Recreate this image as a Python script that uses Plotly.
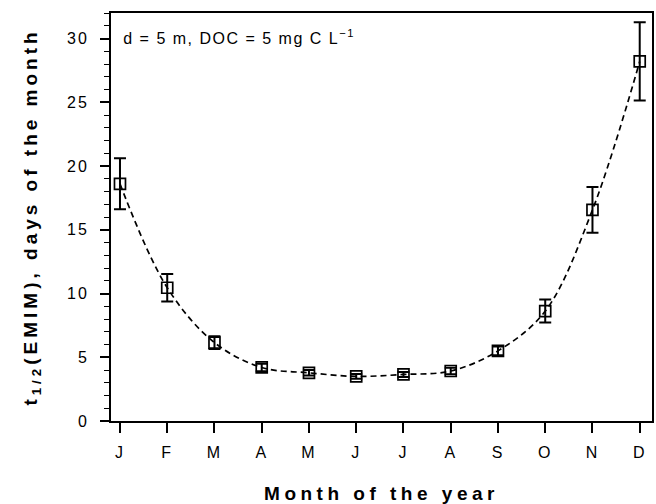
import plotly.graph_objects as go

months = list(range(1, 13))
month_labels = ["J", "F", "M", "A", "M", "J", "J", "A", "S", "O", "N", "D"]
half_life = [18.6, 10.45, 6.15, 4.2, 3.78, 3.5, 3.65, 3.92, 5.5, 8.62, 16.56, 28.2]
err = [2.0, 1.08, 0.5, 0.3, 0.22, 0.18, 0.2, 0.25, 0.35, 0.9, 1.8, 3.07]

FONT = "Liberation Sans, Arial, sans-serif"

fig = go.Figure()
fig.add_trace(go.Scatter(
    x=months, y=half_life,
    mode="lines+markers",
    line=dict(color="black", width=1.7, dash="6px,4px", shape="spline", smoothing=1.0),
    marker=dict(symbol="square-open", size=11, color="black", line=dict(width=1.7, color="black")),
    error_y=dict(type="data", array=err, visible=True, color="black", thickness=2, width=6),
    showlegend=False,
))

fig.add_annotation(
    x=0.236, y=1, xref="paper", yref="paper", xanchor="center", yanchor="top",
    yshift=-12,
    text="d = 5 m, DOC = 5 mg C L<sup>\u22121</sup>",
    showarrow=False, font=dict(family=FONT, size=16, color="black"),
)

fig.update_layout(
    width=656, height=504,
    margin=dict(l=111, r=2, t=13, b=83),
    paper_bgcolor="white", plot_bgcolor="white",
    font=dict(family=FONT, color="black", size=16),
    xaxis=dict(
        range=[0.81, 12.26], tickmode="array", tickvals=months, ticktext=month_labels,
        showgrid=False, zeroline=False,
        showline=True, linecolor="black", linewidth=2, mirror=True,
        ticks="outside", ticklen=10, tickwidth=1.6, tickcolor="black",
        ticklabelstandoff=6,
        tickfont=dict(family=FONT, size=16, color="black"),
        title=dict(text="Month of the year", font=dict(family=FONT, size=19, color="black", weight="bold"), standoff=27),
    ),
    yaxis=dict(
        range=[0, 32], tickvals=[0, 5, 10, 15, 20, 25, 30],
        showgrid=False, zeroline=False,
        showline=True, linecolor="black", linewidth=2, mirror=True,
        ticks="outside", ticklen=9, tickwidth=1.6, tickcolor="black",
        ticklabelstandoff=8,
        minor=dict(dtick=1, ticks="outside", ticklen=5, tickwidth=1.2, tickcolor="black", showgrid=False),
        tickfont=dict(family=FONT, size=16, color="black"),
        title=dict(text="t<sub>1/2</sub>(EMIM), days of the month", font=dict(family=FONT, size=19, color="black", weight="bold"), standoff=28),
    ),
)

post = """
var gd = document.getElementById('{plot_id}');
function sp(sel, v){ gd.querySelectorAll(sel).forEach(function(e){ e.style.letterSpacing = v; }); }
sp('.xtick text', '2px');
sp('.ytick text', '2px');
sp('.xtitle', '4.5px');
sp('.ytitle', '4px');
sp('.annotation-text', '1.5px');
"""

fig.write_html("out.html", post_script=post)
